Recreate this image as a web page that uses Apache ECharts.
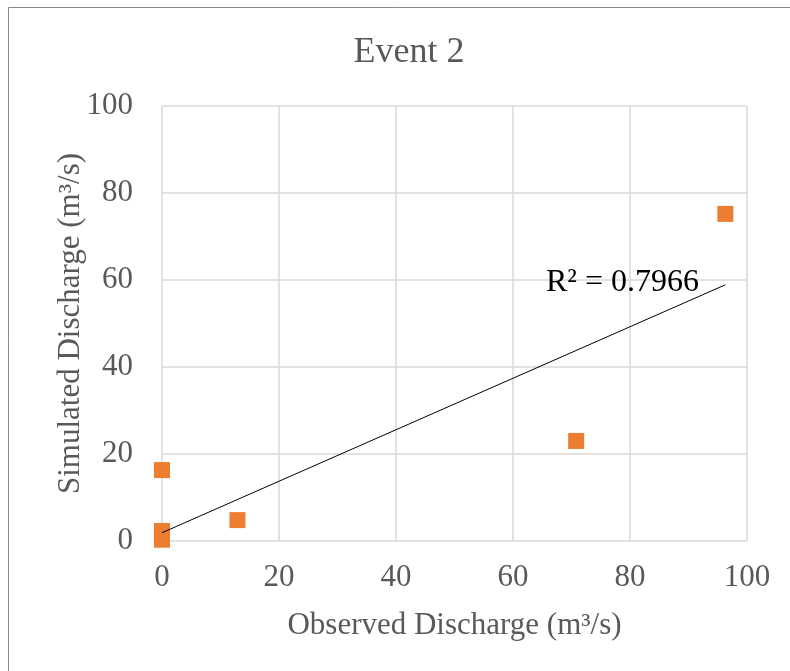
<!DOCTYPE html>
<html>
<head>
<meta charset="utf-8">
<script src="https://cdn.jsdelivr.net/npm/echarts@6/dist/echarts.min.js"></script>
<style>
html,body{margin:0;padding:0;background:#fff;}
#chart{width:790px;height:671px;}
</style>
</head>
<body>
<div id="chart"></div>
<script>
// Data
var observed = [0, 0, 0, 12.9, 70.8, 96.3];
var simulated = [16.3, 2.3, 0.3, 4.8, 23.0, 75.2];
var trendX = [0, 96.3];
var trendY = [1.9, 58.9];
var xTicks = [0, 20, 40, 60, 80, 100];
var yTicks = [0, 20, 40, 60, 80, 100];
var titleText = 'Event 2';
var xName = 'Observed Discharge (m³/s)';
var yName = 'Simulated Discharge (m³/s)';
var r2Text = 'R² = 0.7966';

var FONT = '"Liberation Serif", "Times New Roman", serif';
var GRAY = '#595959';

var points = observed.map(function (x, i) { return [x, simulated[i]]; });
var trend = trendX.map(function (x, i) { return [x, trendY[i]]; });

var chart = echarts.init(document.getElementById('chart'));
chart.setOption({
  animation: false,
  backgroundColor: '#fff',
  title: {
    text: titleText,
    left: 404,
    textAlign: 'center',
    top: 30,
    textStyle: { fontFamily: FONT, fontSize: 36, fontWeight: 'normal', color: GRAY }
  },
  grid: { left: 162, right: 43, top: 106, bottom: 130 },
  xAxis: {
    type: 'value',
    min: xTicks[0],
    max: xTicks[xTicks.length - 1],
    interval: xTicks[1] - xTicks[0],
    name: xName,
    nameLocation: 'middle',
    nameGap: 69,
    nameMoveOverlap: false,
    nameTextStyle: { fontFamily: FONT, fontSize: 31, color: GRAY },
    axisLine: { show: false },
    axisTick: { show: false },
    axisLabel: { fontFamily: FONT, fontSize: 31, color: GRAY, margin: 21 },
    splitLine: { show: true, lineStyle: { color: '#d9d9d9', width: 1.5 } }
  },
  yAxis: {
    type: 'value',
    min: yTicks[0],
    max: yTicks[yTicks.length - 1],
    interval: yTicks[1] - yTicks[0],
    name: yName,
    nameLocation: 'middle',
    nameGap: 76,
    nameMoveOverlap: false,
    nameTextStyle: { fontFamily: FONT, fontSize: 31, color: GRAY },
    axisLine: { show: false },
    axisTick: { show: false },
    axisLabel: { fontFamily: FONT, fontSize: 31, color: GRAY, margin: 29 },
    splitLine: { show: true, lineStyle: { color: '#d9d9d9', width: 1.5 } }
  },
  graphic: [
    {
      type: 'rect',
      shape: { x: 8.5, y: 7.5, width: 1000, height: 1000 },
      style: { fill: 'none', stroke: '#8a8a8a', lineWidth: 1 },
      silent: true
    },
    {
      type: 'text',
      left: 546,
      top: 267,
      z: 10,
      style: { text: r2Text, fontFamily: FONT, fontSize: 32, fill: '#000' }
    }
  ],
  series: [
    {
      type: 'line',
      data: trend,
      symbol: 'none',
      lineStyle: { color: '#000', width: 1 },
      z: 3
    },
    {
      type: 'scatter',
      data: points,
      symbol: 'rect',
      symbolSize: 16,
      itemStyle: { color: '#ED7D31', opacity: 1 },
      z: 2
    }
  ]
});
</script>
</body>
</html>
